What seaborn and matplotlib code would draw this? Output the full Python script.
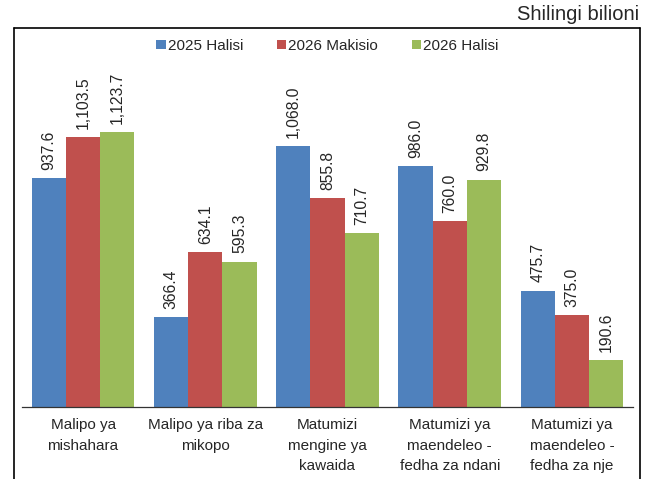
import matplotlib
matplotlib.use("Agg")
import matplotlib.pyplot as plt
from matplotlib.lines import Line2D
import seaborn as sns
import pandas as pd
import numpy as np

categories = ["Malipo ya\nmishahara", "Malipo ya riba za\nmikopo", "Matumizi\nmengine ya\nkawaida",
              "Matumizi ya\nmaendeleo -\nfedha za ndani", "Matumizi ya\nmaendeleo -\nfedha za nje"]
series = ["2025 Halisi", "2026 Makisio", "2026 Halisi"]
v2025_halisi = [937.6, 366.4, 1068.0, 986.0, 475.7]
v2026_makisio = [1103.5, 634.1, 855.8, 760.0, 375.0]
v2026_halisi = [1123.7, 595.3, 710.7, 929.8, 190.6]
colors = ["#4F81BD", "#C0504D", "#9BBB59"]

rows = []
for s, vals in zip(series, [v2025_halisi, v2026_makisio, v2026_halisi]):
    for c, v in zip(categories, vals):
        rows.append({"cat": c, "series": s, "value": v})
df = pd.DataFrame(rows)

sns.set_style("white")
plt.rcParams['font.family'] = ['Liberation Sans', 'DejaVu Sans']

fig = plt.figure(figsize=(6.5, 4.79), dpi=100)
ax = fig.add_axes([22/650, 72/479, (633-22)/650, (407-40)/479])
sns.barplot(data=df, x="cat", y="value", hue="series", palette=colors,
            width=0.84, ax=ax, saturation=1, legend=True, order=categories, hue_order=series,
            linewidth=0)

ax.set_ylim(0, 1502)
ax.set_xlim(-0.5, 4.5)
ax.set_xlabel("")
ax.set_ylabel("")
ax.set_yticks([])
for sp in ["top", "right", "left"]:
    ax.spines[sp].set_visible(False)
ax.spines["bottom"].set_color("#333333")
ax.spines["bottom"].set_linewidth(0.9)

ax.set_xticks(range(5))
ax.set_xticklabels(categories, fontsize=11, linespacing=1.6)
ax.tick_params(axis="x", which="major", length=0, pad=8)
ax.set_xticks(np.arange(-0.5, 5.0, 1.0), minor=True)
ax.tick_params(axis="x", which="minor", length=6, width=0.9, color="#333333", direction="out")

for cont in ax.containers:
    for bar in cont:
        h = bar.get_height()
        ax.annotate(f"{h:,.1f}", (bar.get_x() + bar.get_width() / 2, h),
                    xytext=(0, 6), textcoords="offset points", rotation=90,
                    ha="center", va="bottom", fontsize=11.3)

leg = ax.legend(loc="center", bbox_to_anchor=(0.5, (407 - 46) / 367), ncol=3, frameon=False,
                fontsize=11, handlelength=0.6, handleheight=0.6, handletextpad=0.15,
                columnspacing=2.2)

# outer frame
fx0, fx1, fy = 14/650, 640/650, 1 - 28/479
fig.add_artist(Line2D([fx0, fx0], [-0.01, fy], transform=fig.transFigure, color="black", lw=1.2))
fig.add_artist(Line2D([fx1, fx1], [-0.01, fy], transform=fig.transFigure, color="black", lw=1.2))
fig.add_artist(Line2D([fx0, fx1], [fy, fy], transform=fig.transFigure, color="black", lw=1.2))

fig.text(639/650, 1 - 14/479, "Shilingi bilioni", ha="right", va="center", fontsize=14.5)

fig.savefig("out.png", dpi=100)
